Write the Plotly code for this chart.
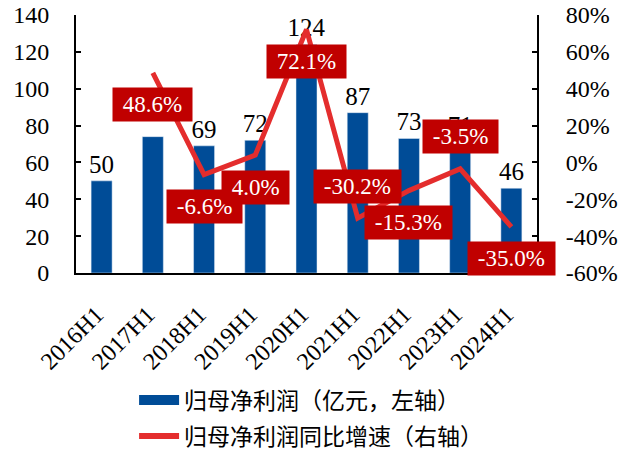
import plotly.graph_objects as go

# data
periods = ["2016H1", "2017H1", "2018H1", "2019H1", "2020H1", "2021H1", "2022H1", "2023H1", "2024H1"]
profit = [50, 74, 69, 72, 124, 87, 73, 71, 46]  # 亿元
profit_labels = ["50", "", "69", "72", "124", "87", "73", "71", "46"]  # 2017H1 label is hidden in the source
growth_periods = periods[1:]
growth = [48.6, -6.6, 4.0, 72.1, -30.2, -15.3, -3.5, -35.0]  # %
y2_ticks = [-60, -40, -20, 0, 20, 40, 60, 80]
y2_ticktext = ["-60%", "-40%", "-20%", "0%", "20%", "40%", "60%", "80%"]

# where each growth label sits relative to the point
label_side = ["below", "below", "below", "below", "above", "below", "above", "below"]

serif = "Liberation Serif"
cjk = "Noto Sans CJK SC"
blue = "#004C97"
red = "#E42D2D"
box_red = "#C00000"
nb = "\u00a0"

fig = go.Figure()

fig.add_trace(go.Bar(
    x=periods, y=profit, name="归母净利润（亿元，左轴）",
    marker_color=blue, width=0.41, showlegend=False,
    text=profit_labels, textposition="outside",
    textfont=dict(family=serif, size=25, color="black"),
    cliponaxis=False, constraintext="none",
))

fig.add_trace(go.Scatter(
    x=growth_periods, y=growth, name="归母净利润同比增速（右轴）",
    yaxis="y2", mode="lines", line=dict(color=red, width=5),
    cliponaxis=False, showlegend=False,
))

# legend entries: wide blue block for the bars, thick red line for growth
fig.add_trace(go.Scatter(
    x=[None], y=[None], mode="lines", name="归母净利润（亿元，左轴）",
    line=dict(color=blue, width=13), legendgroup="a",
))
fig.add_trace(go.Scatter(
    x=[None], y=[None], mode="lines", name="归母净利润同比增速（右轴）",
    line=dict(color=red, width=6), legendgroup="b",
))

for p, g, side in zip(growth_periods, growth, label_side):
    fig.add_annotation(
        x=p, y=g, yref="y2", text=f"{nb}{g:.1f}%{nb}", showarrow=False,
        yshift=32 if side == "above" else -32,
        bgcolor=box_red, borderpad=4,
        font=dict(family=serif, size=23, color="white"),
    )

axis_font = dict(family=serif, size=24, color="black")

fig.update_layout(
    width=632, height=455,
    margin=dict(l=76, r=95, t=15, b=182),
    plot_bgcolor="white", paper_bgcolor="white",
    bargap=0.59,
    font=dict(family=serif, size=24, color="black"),
    xaxis=dict(
        range=[-0.5, len(periods) - 0.5],
        showline=True, linecolor="black", linewidth=2,
        tickangle=-45, tickfont=axis_font, ticks="",
        automargin=False, ticklabelstandoff=16, ticklabelshift=-5,
    ),
    yaxis=dict(
        range=[0, 140], dtick=20, showgrid=False, zeroline=False,
        showline=True, linecolor="black", linewidth=2,
        ticks="inside", ticklen=5, tickwidth=2, tickcolor="black",
        tickfont=axis_font, automargin=False, ticklabelstandoff=20,
        ticklabeloverflow="allow",
    ),
    yaxis2=dict(
        overlaying="y", side="right", range=[-60, 80],
        tickvals=y2_ticks, ticktext=y2_ticktext,
        showgrid=False, zeroline=False,
        showline=True, linecolor="black", linewidth=2,
        ticks="inside", ticklen=5, tickwidth=2, tickcolor="black",
        tickfont=axis_font, automargin=False, ticklabelstandoff=22,
        ticklabeloverflow="allow",
    ),
    showlegend=True,
    legend=dict(
        orientation="v", x=0.126, xanchor="left",
        yref="container", y=0.168, yanchor="top",
        font=dict(family=cjk, size=23, color="black"),
        tracegroupgap=3, itemwidth=40,
    ),
)

# drop the default 8px page margin so the figure fills the window
fig.write_html("out.html", config={"displayModeBar": False},
               post_script="document.body.style.margin = '0';")
